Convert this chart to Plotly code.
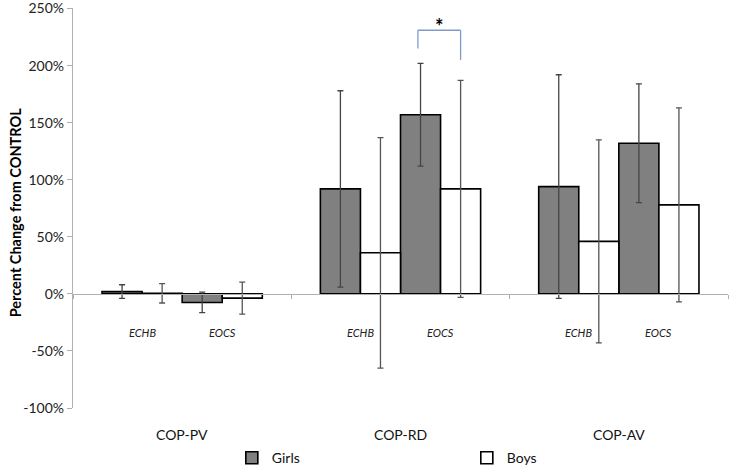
import plotly.graph_objects as go

groups = ["COP-PV", "COP-RD", "COP-AV"]
subgroups = ["ECHB", "EOCS"]
girls_mean = [2, -7.5, 92, 157, 94, 132]
girls_err = [6, 9, 86, 45, 98, 52]
boys_mean = [0.5, -3.7, 36, 92, 46, 78]
boys_err = [8.5, 14, 101, 95, 89, 85]
y_ticks = [-100, -50, 0, 50, 100, 150, 200, 250]
y_ticklabels = ["-100%", "-50%", "0%", "50%", "100%", "150%", "200%", "250%"]
y_title = "Percent Change from CONTROL"
sig_pair = (1, 1)  # group COP-RD, subgroup EOCS
sig_label = "*"

bw = 0.1835
sub_off = [-bw, bw]
x_centers = [g + sub_off[s] for g in range(len(groups)) for s in range(len(subgroups))]
x_girls = [c - bw / 2 for c in x_centers]
x_boys = [c + bw / 2 for c in x_centers]

font = "Lato, 'Open Sans', sans-serif"
fig = go.Figure()
fig.add_trace(go.Bar(
    x=x_girls, y=girls_mean, width=bw, name="Girls",
    marker=dict(color="#808080", line=dict(color="#000", width=1.6)),
    error_y=dict(type="data", array=girls_err, color="#444", thickness=1.3, width=3),
))
fig.add_trace(go.Bar(
    x=x_boys, y=boys_mean, width=bw, name="Boys",
    marker=dict(color="#ffffff", line=dict(color="#000", width=1.6)),
    error_y=dict(type="data", array=boys_err, color="#555", thickness=1.3, width=3),
))

ann = []
for i, c in enumerate(x_centers):
    ann.append(dict(x=c, y=-34, xref="x", yref="y", text="<i>" + subgroups[i % 2] + "</i>", showarrow=False,
                    font=dict(family=font, size=11, color="#222"), yanchor="middle"))
for g, name in enumerate(groups):
    ann.append(dict(x=g, y=-0.067, xref="x", yref="paper", text=name, showarrow=False,
                    font=dict(family=font, size=14, color="#111"), yanchor="middle"))
ann.append(dict(x=-0.088, y=0.49, xref="paper", yref="paper", text="<b>" + y_title + "</b>", showarrow=False,
                textangle=-90, font=dict(family=font, size=14.5, color="#000"),
                xanchor="center", yanchor="middle"))

gi, si = sig_pair
idx = gi * 2 + si
xl, xr = x_girls[idx] - 0.012, x_boys[idx]
blue = "#7F9CC9"
shapes = [
    dict(type="line", xref="x", yref="y", x0=xl, x1=xr, y0=231, y1=231, line=dict(color=blue, width=1.3)),
    dict(type="line", xref="x", yref="y", x0=xl, x1=xl, y0=231, y1=215, line=dict(color=blue, width=1.3)),
    dict(type="line", xref="x", yref="y", x0=xr, x1=xr, y0=231, y1=205, line=dict(color=blue, width=1.3)),
]
ann.append(dict(x=(xl + xr) / 2, y=235, xref="x", yref="y", text="<b>" + sig_label + "</b>", showarrow=False,
                font=dict(family=font, size=20, color="#000"), yanchor="middle"))

fig.update_layout(
    width=729, height=466, margin=dict(l=73, r=1, t=8, b=58, autoexpand=False),
    plot_bgcolor="white", paper_bgcolor="white", barmode="overlay",
    showlegend=True,
    legend=dict(orientation="h", x=0.318, xanchor="left", xref="container", y=0.017, yref="container",
                yanchor="middle", entrywidth=190, font=dict(family=font, size=14, color="#111"),
                itemclick=False),
    xaxis=dict(range=[-0.5, 2.5], anchor="free", position=100 / 350, showline=True, automargin=False,
               linecolor="#b0b0b0", linewidth=1.3, ticks="outside", ticklen=4, tickcolor="#b0b0b0",
               tickvals=[-0.5, 0.5, 1.5, 2.5], showticklabels=False, showgrid=False, zeroline=False),
    yaxis=dict(range=[-100, 250.5], tickvals=y_ticks, ticktext=y_ticklabels, showline=True, automargin=False,
               ticklabeloverflow="allow",
               linecolor="#b0b0b0", linewidth=1.3, ticks="outside", ticklen=5, tickcolor="#b0b0b0",
               showgrid=False, zeroline=False, tickfont=dict(family=font, size=14, color="#222")),
    annotations=ann, shapes=shapes,
)
fig.write_html("out.html", config={"displayModeBar": False},
               post_script="document.body.style.margin='0';document.body.style.overflow='hidden';")
